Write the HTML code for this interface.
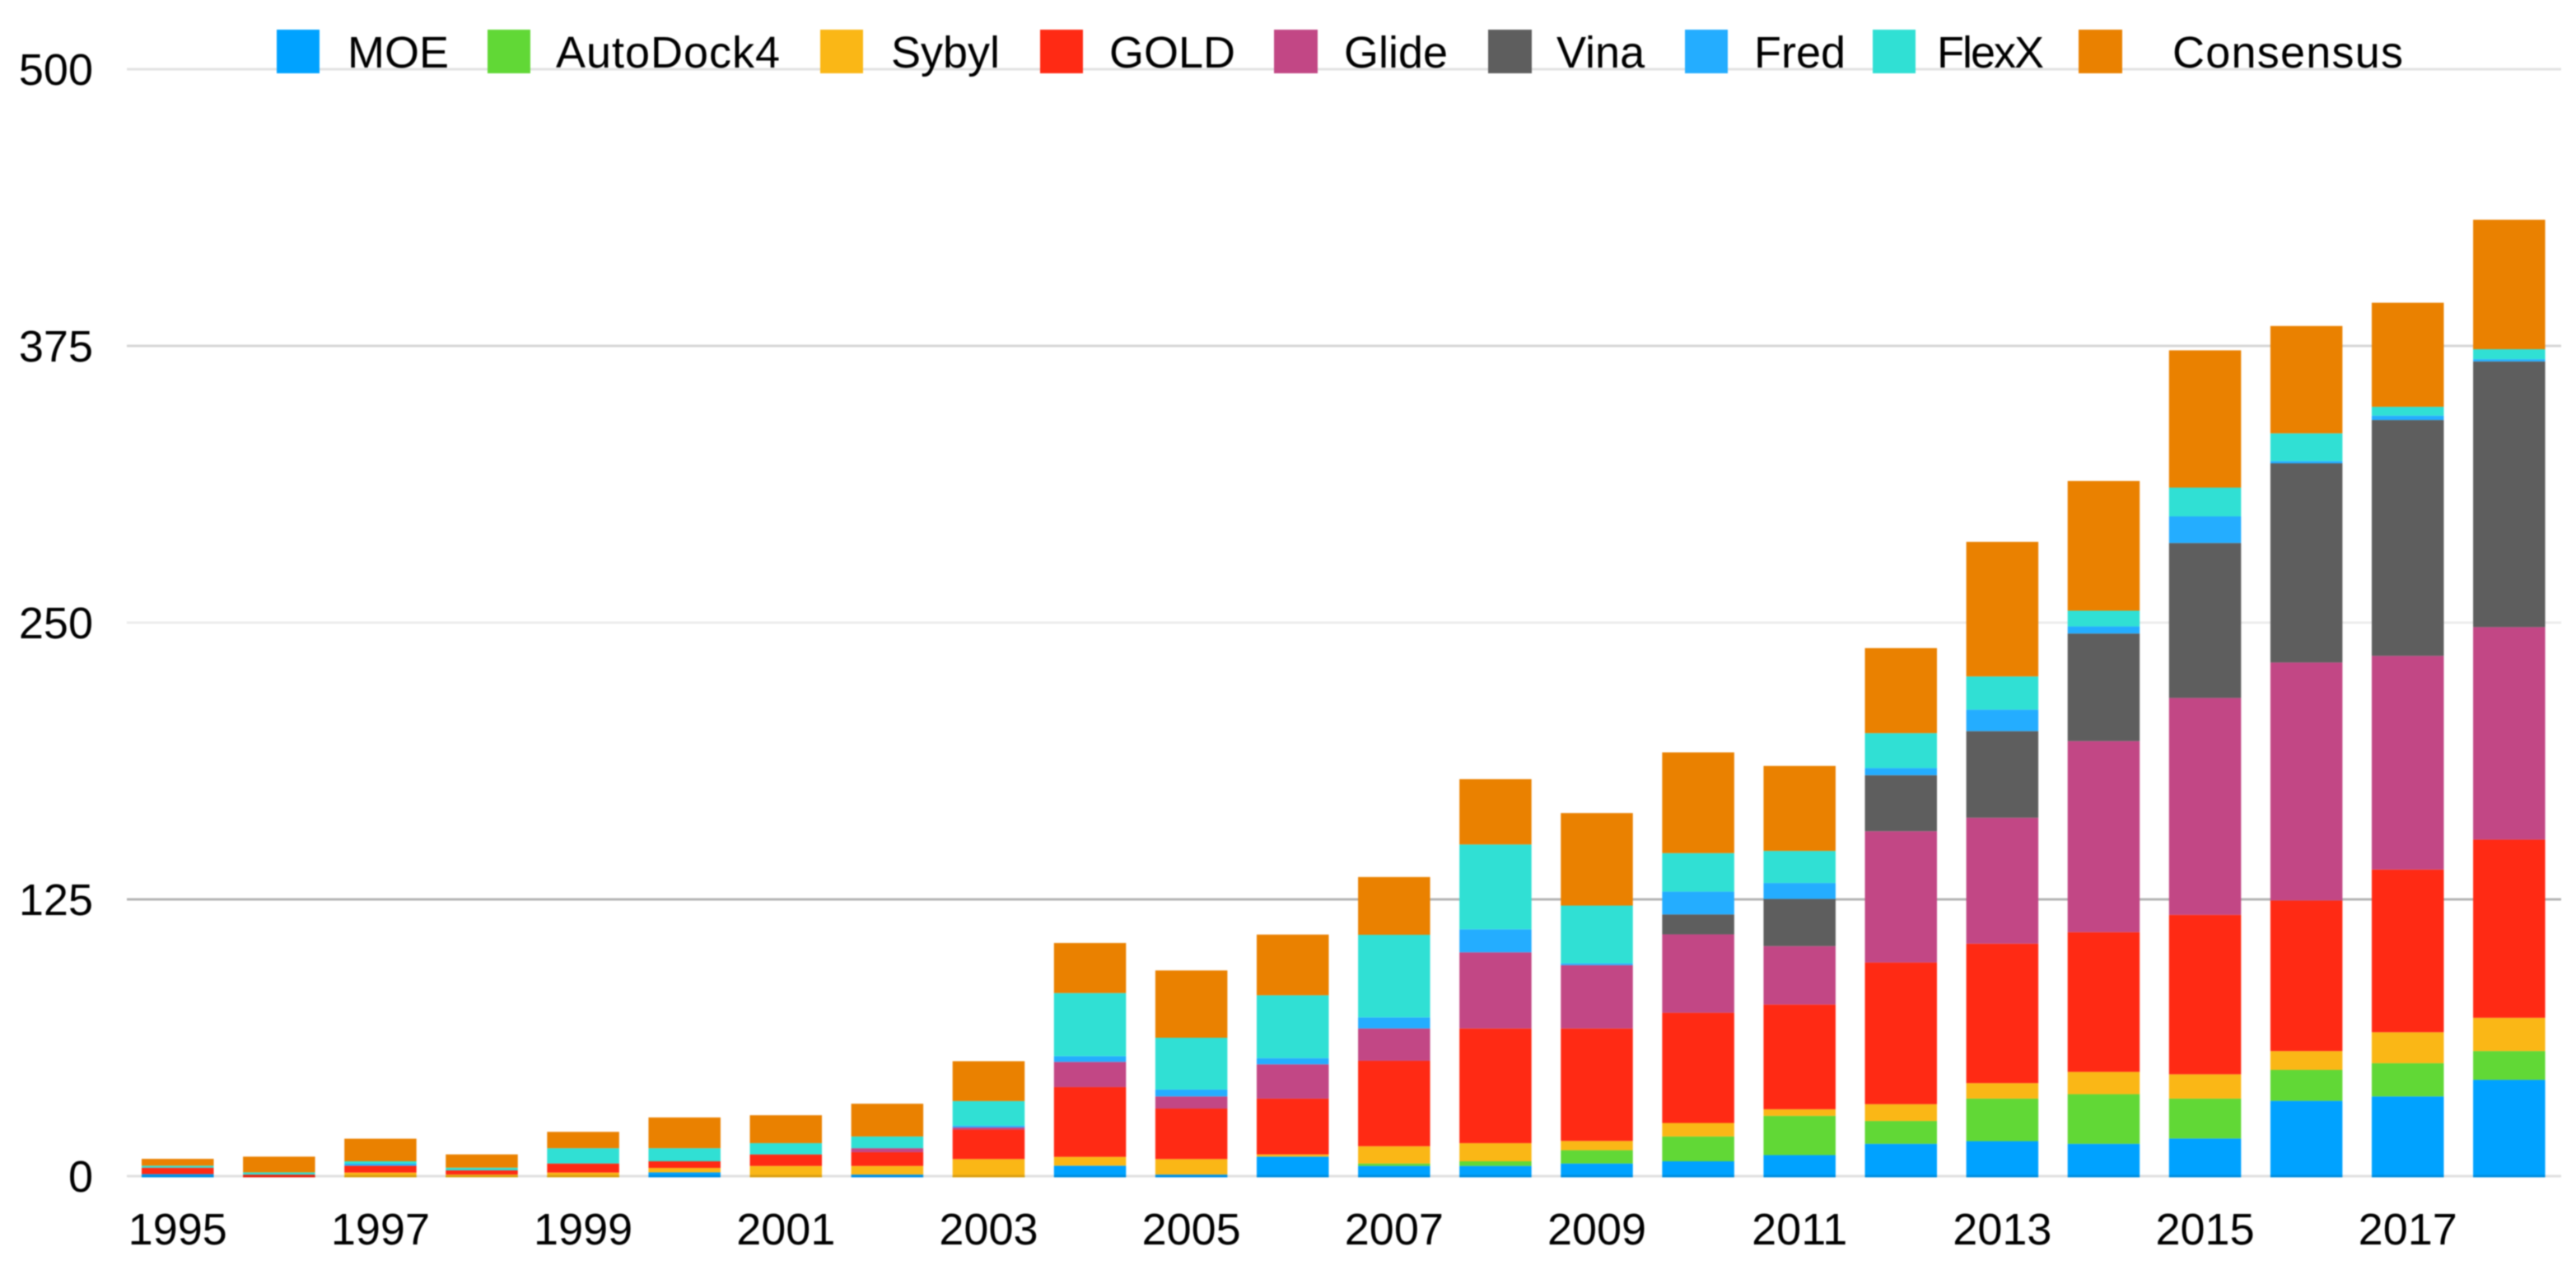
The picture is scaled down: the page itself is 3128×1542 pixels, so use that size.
<!DOCTYPE html>
<html lang="en">
<head>
<meta charset="utf-8">
<title>Docking software citations by year</title>
<style>
html,body{margin:0;padding:0;background:#fff;width:3128px;height:1542px;overflow:hidden}
svg{display:block;filter:blur(0.7px)}
text{font-family:"Liberation Sans",Arial,sans-serif;font-size:54px;fill:#000}
</style>
</head>
<body>
<svg id="chart" xmlns="http://www.w3.org/2000/svg" width="3128" height="1542" viewBox="0 0 3128 1542">
  <g id="grid"></g>
  <g id="bars"></g>
  <g id="axis"></g>
  <g id="legend">
    <rect x="336" y="36" width="52" height="53" fill="#00a2ff"/>
    <text x="422" y="82">MOE</text>
    <rect x="592" y="36" width="52" height="53" fill="#61d836"/>
    <text x="675" y="82" textLength="272">AutoDock4</text>
    <rect x="996" y="36" width="52" height="53" fill="#fab716"/>
    <text x="1082" y="82">Sybyl</text>
    <rect x="1263" y="36" width="52" height="53" fill="#ff2a14"/>
    <text x="1347" y="82">GOLD</text>
    <rect x="1547" y="36" width="53" height="53" fill="#c24785"/>
    <text x="1632" y="82">Glide</text>
    <rect x="1807" y="36" width="53" height="53" fill="#5e5e5e"/>
    <text x="1890" y="82">Vina</text>
    <rect x="2046" y="36" width="52" height="53" fill="#24adff"/>
    <text x="2130" y="82">Fred</text>
    <rect x="2274" y="36" width="52" height="53" fill="#30e0d4"/>
    <text x="2352" y="82" textLength="130">FlexX</text>
    <rect x="2524" y="36" width="53" height="53" fill="#ea8100"/>
    <text x="2638" y="82" textLength="280">Consensus</text>
  </g>
</svg>
<script>
const years = [1995,1996,1997,1998,1999,2000,2001,2002,2003,2004,2005,2006,2007,2008,2009,2010,2011,2012,2013,2014,2015,2016,2017,2018];
const moe = [0.9,0,0,0,0,1.7,0,0.7,0,4.7,0.7,8.8,4.6,4.6,5.7,6.7,9.5,14.6,15.8,14.6,17,34,36,43.5];
const autodock4 = [0,0,0,0,0,0,0,0,0,0,0,0,1.1,2.1,6,11.2,17.7,10.3,19.2,22.4,18,14,15,13];
const sybyl = [0,0,1.6,0.7,1.6,2,4.6,3.9,7.7,4,7,1,7.8,8.2,4.2,6.1,3,7.6,7,10.1,11,8.5,14,15];
const gold = [2.9,0.7,3.1,1.9,4.1,3,5.2,6.2,13.3,31.5,22.8,25.2,38.6,51.8,50.8,49.8,47.3,64,63,63.1,72,68,73.5,80.5];
const glide = [0,0,0,0,0,0,0,1.8,1,11.4,5.5,15.5,14.6,34.4,28.6,35.4,26.4,59.3,56.9,86.3,98,107.5,96.5,96];
const vina = [0,0,0,0,0,0,0,0,0,0,0,0,0,0,0,9,21.3,25.3,39.1,48.6,70,90,106.5,120];
const fred = [0,0,0.9,0,0,0,0,0,0.8,2.6,3.1,2.8,5,10.4,0.8,10.3,7.2,3.2,9.7,3.2,12,1,2,1];
const flexx = [0.9,1,1.1,1.2,6.9,5.9,5.1,5.3,11.1,28.5,23.4,28.4,37.3,38.3,26.1,17.4,14.5,15.8,15,7.1,13,12.5,4,4.5];
const consensus = [3.1,7.1,10.2,6,7.4,13.9,12.6,14.8,18,22.6,30.4,27.4,26.1,29.5,41.8,45.5,38.4,38.4,60.8,58.6,62,48.5,47,58.5];
const yTickLabels = [0,125,250,375,500];
const xTickLabels = ["1995","1997","1999","2001","2003","2005","2007","2009","2011","2013","2015","2017"];

const NS = "http://www.w3.org/2000/svg";
const plotLeft = 154, plotRight = 3110, baseY = 1428, pxPerUnit = 2.688;
const bandStep = 123.09, barWidth = 87.5;
const gridColors = {0:"#e2e2e2",125:"#b4b4b4",250:"#ececec",375:"#d6d6d6",500:"#e2e2e2"};

function xBand(i){ return plotLeft + 18 + bandStep * i; }
function xCenter(i){ return xBand(i) + barWidth / 2; }
function yScale(v){ return baseY - v * pxPerUnit; }

const stack = [
  {key:"moe", values:moe, color:"#00a2ff"},
  {key:"autodock4", values:autodock4, color:"#61d836"},
  {key:"sybyl", values:sybyl, color:"#fab716"},
  {key:"gold", values:gold, color:"#ff2a14"},
  {key:"glide", values:glide, color:"#c24785"},
  {key:"vina", values:vina, color:"#5e5e5e"},
  {key:"fred", values:fred, color:"#24adff"},
  {key:"flexx", values:flexx, color:"#30e0d4"},
  {key:"consensus", values:consensus, color:"#ea8100"}
];

const gridG = document.getElementById("grid");
const barsG = document.getElementById("bars");
const axisG = document.getElementById("axis");

yTickLabels.forEach(function(t){
  if (t !== 0) {
    const line = document.createElementNS(NS, "rect");
    
    
    line.setAttribute("x", plotLeft);
    line.setAttribute("y", yScale(t) - 1.5);
    line.setAttribute("width", plotRight - plotLeft);
    line.setAttribute("height", 3);
    line.setAttribute("fill", gridColors[t]);
    gridG.appendChild(line);
  }
  const label = document.createElementNS(NS, "text");
  
  
  label.setAttribute("x", 113);
  label.setAttribute("y", yScale(t) + 19);
  label.setAttribute("text-anchor", "end");
  label.textContent = String(t);
  axisG.appendChild(label);
});

years.forEach(function(year, i){
  let cumulative = 0;
  stack.forEach(function(s){
    const v = s.values[i];
    const top = yScale(cumulative + v);
    const bottom = cumulative === 0 ? yScale(0) + 1.5 : yScale(cumulative);
    const seg = document.createElementNS(NS, "rect");
    
    
    seg.setAttribute("data-series", s.key);
    seg.setAttribute("data-year", year);
    seg.setAttribute("x", xBand(i));
    seg.setAttribute("y", top);
    seg.setAttribute("width", barWidth);
    seg.setAttribute("height", Math.max(0, bottom - top));
    seg.setAttribute("fill", s.color);
    barsG.appendChild(seg);
    cumulative += v;
  });
});

const baseline = document.createElementNS(NS, "rect");


baseline.setAttribute("x", plotLeft);
baseline.setAttribute("y", yScale(0) - 1.5);
baseline.setAttribute("width", plotRight - plotLeft);
baseline.setAttribute("height", 3);
baseline.setAttribute("fill", "rgba(0,0,0,0.12)");
axisG.appendChild(baseline);

xTickLabels.forEach(function(lbl){
  const idx = years.indexOf(Number(lbl));
  const t = document.createElementNS(NS, "text");
  
  
  t.setAttribute("x", xCenter(idx));
  t.setAttribute("y", 1511);
  t.setAttribute("text-anchor", "middle");
  t.textContent = lbl;
  axisG.appendChild(t);
});
</script>
</body>
</html>
